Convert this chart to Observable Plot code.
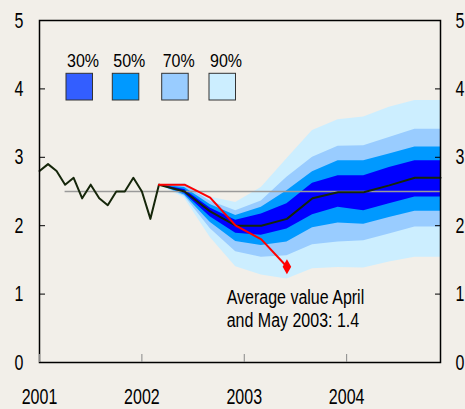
<!DOCTYPE html>
<html>
<head>
<meta charset="utf-8">
<script src="https://cdn.jsdelivr.net/npm/d3@7"></script>
<script src="https://cdn.jsdelivr.net/npm/@observablehq/plot@0.6"></script>
<style>
  html, body { margin: 0; padding: 0; background: #f2efe9; }
  #chart { width: 465px; height: 409px; overflow: hidden; }
</style>
</head>
<body>
<div id="chart"></div>
<script>
// ---- Data ----
const months = ["2001-01","2001-02","2001-03","2001-04","2001-05","2001-06","2001-07","2001-08",
  "2001-09","2001-10","2001-11","2001-12","2002-01","2002-02","2002-03"];
const history = [2.80, 2.90, 2.80, 2.60, 2.70, 2.40, 2.60, 2.40, 2.30, 2.50, 2.50, 2.70, 2.50, 2.10, 2.60];

const quarters = ["2002-03","2002-06","2002-09","2002-12","2003-03","2003-06","2003-09","2003-12",
  "2004-03","2004-06","2004-09","2004-12"];
const median = [2.60, 2.50, 2.21, 2.00, 2.00, 2.10, 2.40, 2.49, 2.49, 2.59, 2.70, 2.70];
const lo30 = [2.60, 2.47, 2.13, 1.89, 1.86, 1.95, 2.16, 2.27, 2.22, 2.32, 2.42, 2.42];
const hi30 = [2.60, 2.53, 2.26, 2.08, 2.17, 2.32, 2.62, 2.73, 2.73, 2.85, 2.95, 2.95];
const lo50 = [2.60, 2.45, 2.05, 1.77, 1.71, 1.76, 1.97, 2.04, 2.02, 2.12, 2.21, 2.21];
const hi50 = [2.60, 2.56, 2.31, 2.15, 2.27, 2.51, 2.79, 2.95, 2.95, 3.05, 3.15, 3.15];
const lo70 = [2.60, 2.43, 1.96, 1.62, 1.54, 1.56, 1.72, 1.76, 1.78, 1.88, 1.98, 1.98];
const hi70 = [2.60, 2.59, 2.36, 2.22, 2.36, 2.71, 3.00, 3.16, 3.17, 3.29, 3.41, 3.41];
const lo90 = [2.60, 2.40, 1.83, 1.40, 1.28, 1.22, 1.37, 1.39, 1.38, 1.47, 1.54, 1.54];
const hi90 = [2.60, 2.62, 2.42, 2.34, 2.56, 2.98, 3.39, 3.55, 3.59, 3.73, 3.83, 3.83];

const actualMonths = ["2002-03","2002-06","2002-09","2002-12","2003-03","2003-06"];
const actual = [2.60, 2.60, 2.41, 2.00, 1.80, 1.40];

const reference = 2.5;
const refStart = "2001-04", refEnd = "2004-12";

const yTicks = [0, 1, 2, 3, 4, 5];
const xTicks = [2001, 2002, 2003, 2004];
const bandLabels = ["30%", "50%", "70%", "90%"];
const annotation = ["Average value April", "and May 2003: 1.4"];

// ---- Build tables ----
const toYear = s => +s.slice(0, 4) + (+s.slice(5) - 1) / 12;
const hist = months.map((m, i) => ({x: toYear(m), y: history[i]}));
const fan = quarters.map((q, i) => ({
  x: toYear(q), m: median[i],
  lo30: lo30[i], hi30: hi30[i], lo50: lo50[i], hi50: hi50[i],
  lo70: lo70[i], hi70: hi70[i], lo90: lo90[i], hi90: hi90[i]
}));
const act = actualMonths.map((m, i) => ({x: toYear(m), y: actual[i]}));

const bandColors = {c30: "#0000ff", c50: "#0099ff", c70: "#99ccff", c90: "#cceeff"};
const legendColors = ["#335eff", "#0099ff", "#99ccff", "#cceeff"];
const lineColor = "#15260a";
const font = "'Liberation Sans', Arial, sans-serif";
const fmt = d => String(d);

const svg = Plot.plot({
  width: 465,
  height: 409,
  marginLeft: 39,
  marginRight: 25,
  marginTop: 20,
  marginBottom: 47,
  style: {fontFamily: font, fontSize: "16px", background: "#f2efe9", color: "black", overflow: "visible"},
  x: {domain: [2001, toYear("2004-12")]},
  y: {domain: [0, 5]},
  marks: [
    Plot.areaY(fan, {x: "x", y1: "lo90", y2: "hi90", fill: bandColors.c90}),
    Plot.areaY(fan, {x: "x", y1: "lo70", y2: "hi70", fill: bandColors.c70}),
    Plot.areaY(fan, {x: "x", y1: "lo50", y2: "hi50", fill: bandColors.c50}),
    Plot.areaY(fan, {x: "x", y1: "lo30", y2: "hi30", fill: bandColors.c30}),
    Plot.ruleY([reference], {x1: toYear(refStart), x2: toYear(refEnd), stroke: "#9a9a9a", strokeWidth: 1.5}),
    Plot.line(hist, {x: "x", y: "y", stroke: lineColor, strokeWidth: 2}),
    Plot.line(fan, {x: "x", y: "m", stroke: lineColor, strokeWidth: 2}),
    Plot.line(act, {x: "x", y: "y", stroke: "#ff0000", strokeWidth: 2}),
    Plot.dot(act.slice(-1), {x: "x", y: "y", symbol: "diamond", r: 4.5, fill: "#ff0000"}),
    Plot.frame({stroke: "black", strokeWidth: 1.5}),
    Plot.axisY({anchor: "left", ticks: yTicks, tickFormat: fmt, tickSize: -6, tickPadding: 22, label: null, stroke: "black", fill: "black"}),
    Plot.axisY({anchor: "right", ticks: yTicks, tickFormat: fmt, tickSize: -6, tickPadding: 21, label: null, stroke: "black", fill: "black"}),
    Plot.axisX({anchor: "bottom", ticks: xTicks, tickFormat: fmt, tickSize: -8, tickPadding: 34, label: null, stroke: "#888", fill: "black"})
  ]
});

// Stretch tick labels vertically like the reference
svg.querySelectorAll("g[aria-label$='tick label'] text").forEach(el => {
  const t = el.getAttribute("transform") || "";
  el.setAttribute("transform", `${t} scale(1,1.4)`);
});

const root = d3.select(svg);
// Legend
const lg = root.append("g").attr("font-family", font).attr("font-size", 16).attr("text-anchor", "start");
const boxX = [66, 112.3, 161.7, 209];
bandLabels.forEach((lab, i) => {
  lg.append("rect").attr("x", boxX[i]).attr("y", 73.3).attr("width", 26.5).attr("height", 26.7)
    .attr("fill", legendColors[i]).attr("stroke", "#333").attr("stroke-width", 1);
  lg.append("text").attr("transform", `translate(${boxX[i] + 1},66.7) scale(1,1.2)`)
    .attr("fill", "black").text(lab);
});
// Annotation
const an = root.append("g").attr("font-family", font).attr("font-size", 16).attr("text-anchor", "start");
an.append("text").attr("transform", "translate(226.7,304.3) scale(1,1.3)").attr("fill", "black").text(annotation[0]);
an.append("text").attr("transform", "translate(226.7,326.7) scale(1,1.3)").attr("fill", "black").text(annotation[1]);

document.getElementById("chart").appendChild(svg);
</script>
</body>
</html>
